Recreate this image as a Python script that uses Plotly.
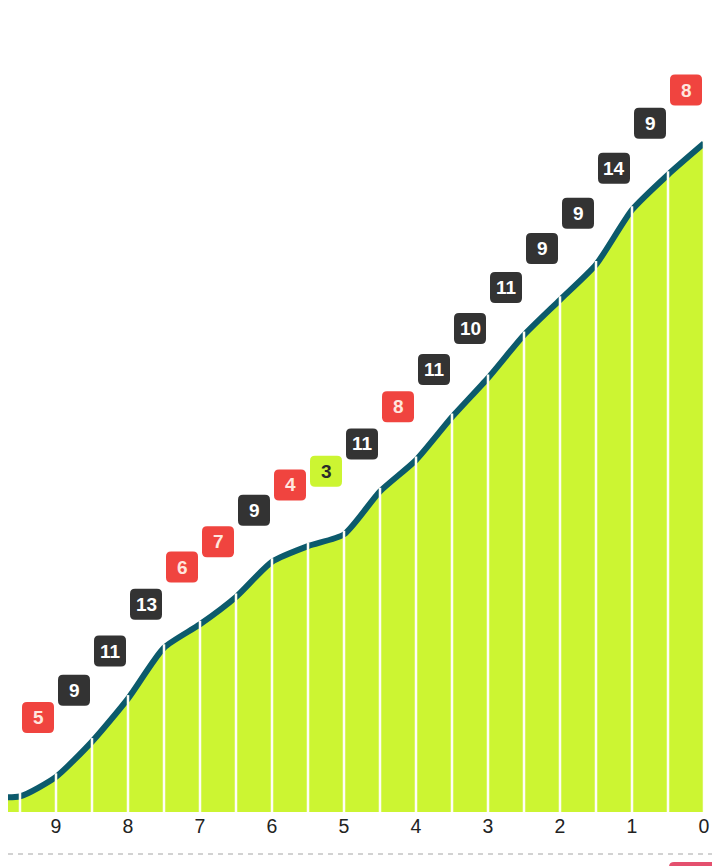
import plotly.graph_objects as go

# data
steps = [10, 9.5, 9, 8.5, 8, 7.5, 7, 6.5, 6, 5.5, 5, 4.5, 4, 3.5, 3, 2.5, 2, 1.5, 1, 0.5, 0]
start_total = 4
gains = [0, 5, 9, 11, 13, 6, 7, 9, 4, 3, 11, 8, 11, 10, 11, 9, 9, 14, 9, 8]
tick_vals = [9, 8, 7, 6, 5, 4, 3, 2, 1, 0]

totals = [start_total]
for g in gains:
    totals.append(totals[-1] + g)

LIME = '#ccf532'
TEAL = '#0c5a6c'
RED = '#f0443f'
DARK = '#333333'

# the page puts the figure 8px in from the top-left corner
FIG_W, FIG_H = 712, 858
PX_PER_X = 72.0
PX_PER_Y = 3.91
PLOT_W, PLOT_H = 696, 804


def box_colors(v):
    if v <= 3:
        return LIME, '#2a2a2a'
    if v <= 8:
        return RED, '#ffe6de'
    return DARK, '#ffffff'


def rounded_box(w, h, r, cy):
    x0, x1 = -w / 2, w / 2
    y0, y1 = cy - h / 2, cy + h / 2
    return (f'M {x0 + r},{y0} L {x1 - r},{y0} Q {x1},{y0} {x1},{y0 + r} '
            f'L {x1},{y1 - r} Q {x1},{y1} {x1 - r},{y1} L {x0 + r},{y1} '
            f'Q {x0},{y1} {x0},{y1 - r} L {x0},{y0 + r} Q {x0},{y0} {x0 + r},{y0} Z')


fig = go.Figure()
fig.add_trace(go.Scatter(x=steps, y=totals, mode='lines', fill='tozeroy', fillcolor=LIME,
                         line=dict(color=TEAL, width=6, shape='spline', smoothing=0.6),
                         hoverinfo='skip', showlegend=False))

shapes = []
# white separators at every point
for x, t in zip(steps, totals):
    shapes.append(dict(type='line', xref='x', yref='y', x0=x, x1=x, y0=0, y1=t + 0.9,
                       line=dict(color='#fffdf5', width=2.5), layer='above'))

annotations = []
for i, g in enumerate(gains):
    if g == 0:
        continue
    mx = (steps[i] + steps[i + 1]) / 2
    my = (totals[i] + totals[i + 1]) / 2
    bg, fg = box_colors(g)
    shapes.append(dict(type='path', xref='x', yref='y', xsizemode='pixel', ysizemode='pixel',
                       xanchor=mx, yanchor=my, path=rounded_box(32, 31, 5, 69),
                       fillcolor=bg, line=dict(width=0), layer='above'))
    annotations.append(dict(x=mx, y=my, xref='x', yref='y', yshift=69, showarrow=False,
                            text=f'<b>{g}</b>',
                            font=dict(family='Liberation Sans, Arial', size=19, color=fg)))

# dashed divider below axis and the cut-off button in the corner
shapes.append(dict(type='line', xref='paper', yref='paper', ysizemode='pixel', yanchor=0,
                   x0=0, x1=FIG_W / PLOT_W, y0=-42, y1=-42,
                   line=dict(color='#c4c4c4', width=1.5, dash='5px,5px')))
shapes.append(dict(type='path', xref='paper', yref='paper', xsizemode='pixel', ysizemode='pixel',
                   xanchor=1, yanchor=0, path='M -35,-70 L -35,-55 Q -35,-50 -30,-50 L 30,-50 L 30,-70 Z',
                   fillcolor='#e4506e', line=dict(width=0)))

fig.update_layout(
    width=FIG_W, height=FIG_H,
    margin=dict(l=0, r=FIG_W - PLOT_W, t=0, b=FIG_H - PLOT_H),
    plot_bgcolor='white', paper_bgcolor='white',
    shapes=shapes, annotations=annotations,
    xaxis=dict(range=[PLOT_W / PX_PER_X, 0], tickvals=tick_vals, showgrid=False, zeroline=False,
               showline=False, ticks='', tickfont=dict(family='Liberation Sans, Arial', size=19.5, color='#222')),
    yaxis=dict(range=[0, PLOT_H / PX_PER_Y], visible=False, showgrid=False, zeroline=False),
)

fig.write_html('out.html')
